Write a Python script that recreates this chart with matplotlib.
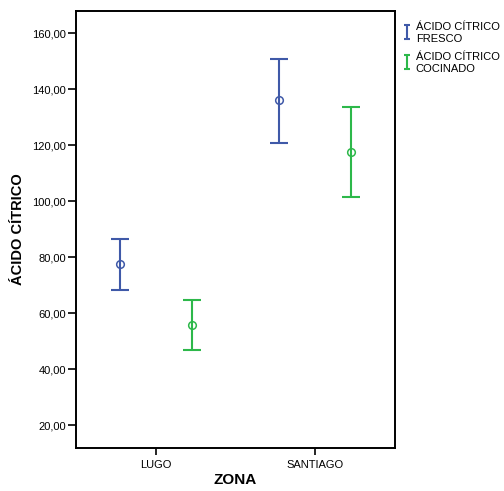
import numpy as np
import matplotlib.pyplot as plt
from matplotlib.ticker import FuncFormatter
from matplotlib.legend_handler import HandlerErrorbar

plt.rcParams['font.family'] = ['Liberation Sans', 'DejaVu Sans']

# datos
zonas = ['LUGO', 'SANTIAGO']
fresco_media = [77.7, 136.0]
fresco_sup = [86.6, 150.7]
fresco_inf = [68.3, 120.7]
cocinado_media = [55.7, 117.5]
cocinado_sup = [64.8, 133.6]
cocinado_inf = [46.7, 101.4]

azul = '#3F59A8'
verde = '#2DB84A'

fig = plt.figure(figsize=(5.04, 4.91), dpi=100)
ax = fig.add_axes([76 / 504, 1 - 448 / 491, (395 - 76) / 504, (448 - 11) / 491])

x = np.arange(len(zonas))
desplaz = 0.225

series = [
    (x - desplaz, fresco_media, fresco_inf, fresco_sup, azul, 'ÁCIDO CÍTRICO\nFRESCO'),
    (x + desplaz, cocinado_media, cocinado_inf, cocinado_sup, verde, 'ÁCIDO CÍTRICO\nCOCINADO'),
]
proxies = []
for xs, media, inf, sup, color, etiqueta in series:
    media = np.array(media)
    yerr = [media - np.array(inf), np.array(sup) - media]
    ax.errorbar(xs, media, yerr=yerr, fmt='none', ecolor=color, elinewidth=1.5,
                capsize=6.5, capthick=1.5)
    ax.plot(xs, media, 'o', mfc='none', mec=color, ms=5.5, mew=1.1)
    # simbolo "I" para la leyenda
    p = ax.errorbar([np.nan], [np.nan], yerr=[1], fmt='none', ecolor=color,
                    elinewidth=1.5, capsize=2.5, capthick=1.5, label=etiqueta)
    proxies.append(p)

ax.set_xlim(-0.5, 1.5)
ax.set_ylim(11.8, 167.9)
ax.set_xticks(x)
ax.set_xticklabels(zonas)
ax.set_yticks(np.arange(20, 161, 20))
ax.yaxis.set_major_formatter(FuncFormatter(lambda v, p: f'{v:.2f}'.replace('.', ',')))
ax.tick_params(axis='y', length=6, width=1.2, labelsize=8, pad=1)
ax.tick_params(axis='x', length=5, width=1.2, labelsize=8, pad=4)
for s in ax.spines.values():
    s.set_linewidth(1.4)

ax.set_xlabel('ZONA', fontsize=11, fontweight='bold', labelpad=2)
ax.set_ylabel('ÁCIDO CÍTRICO', fontsize=10.5, fontweight='bold', labelpad=5)

fig.legend(handles=proxies, loc='upper left', bbox_to_anchor=(399 / 504, 1 - 18 / 491),
           frameon=False, fontsize=8, handlelength=0.6, handleheight=1.6,
           handletextpad=0.5, labelspacing=0.75, borderaxespad=0,
           handler_map={type(proxies[0]): HandlerErrorbar(yerr_size=0.65)})

plt.savefig('out.png', dpi=100)
